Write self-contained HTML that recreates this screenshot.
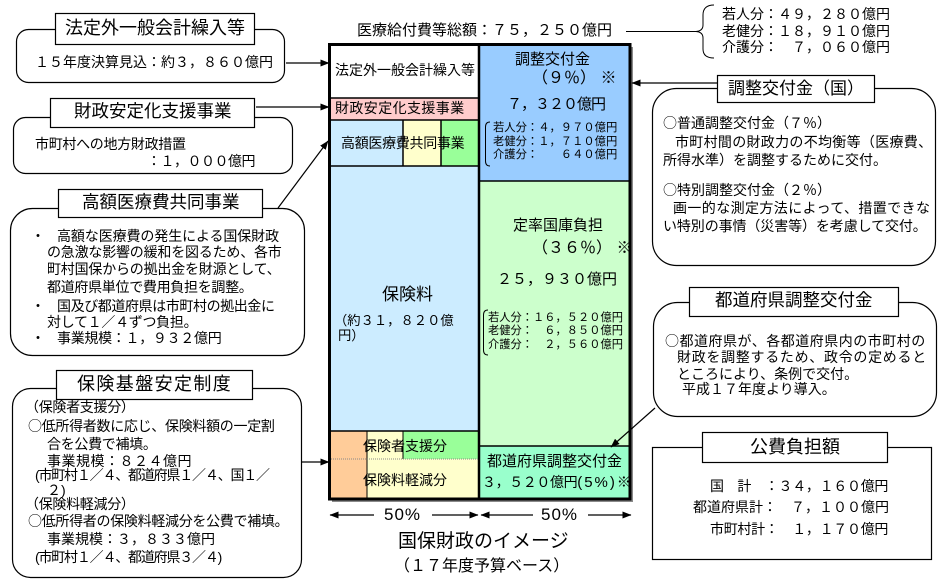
<!DOCTYPE html>
<html lang="ja">
<head>
<meta charset="utf-8">
<style>
  html,body{margin:0;padding:0;}
  body{width:942px;height:581px;position:relative;background:#fff;overflow:hidden;
       font-family:"Liberation Sans","Noto Sans CJK JP",sans-serif;color:#000;}
  svg{position:absolute;left:0;top:0;}
  .t{position:absolute;white-space:nowrap;line-height:1;color:#000;}
  .c{font-family:"Noto Sans CJK JP",sans-serif;}
</style>
</head>
<body>
<svg width="942" height="581" viewBox="0 0 942 581" xmlns="http://www.w3.org/2000/svg">
  <defs>
    <marker id="a" markerWidth="9" markerHeight="7" refX="8.5" refY="3.5" orient="auto" markerUnits="userSpaceOnUse">
      <path d="M0,0 L9,3.5 L0,7 z" fill="#000"/>
    </marker>
  </defs>

  <!-- main block shadow -->
  <rect x="332" y="47" width="301" height="455" fill="#8a8a8a"/>
  <!-- fills -->
  <rect x="329" y="44" width="150" height="54" fill="#ffffff"/>
  <rect x="329" y="98" width="150" height="22" fill="#ffcccc"/>
  <rect x="329" y="120" width="74" height="46" fill="#ccecff"/>
  <rect x="403" y="120" width="38" height="46" fill="#ffffcc"/>
  <rect x="441" y="120" width="38" height="46" fill="#99ff99"/>
  <rect x="329" y="166" width="150" height="265" fill="#ccecff"/>
  <rect x="329" y="431" width="38" height="68" fill="#ffcc99"/>
  <rect x="367" y="431" width="36" height="28" fill="#ffffcc"/>
  <rect x="403" y="431" width="76" height="28" fill="#99ff99"/>
  <rect x="367" y="459" width="112" height="40" fill="#ffffcc"/>
  <rect x="479" y="44" width="151" height="137" fill="#99ccff"/>
  <rect x="479" y="181" width="151" height="265" fill="#ccffcc"/>
  <rect x="479" y="446" width="151" height="53" fill="#99ffcc"/>

  <!-- internal lines -->
  <g stroke="#000" stroke-width="1.5" fill="none">
    <line x1="329" y1="98" x2="479" y2="98"/>
    <line x1="329" y1="120" x2="479" y2="120"/>
    <line x1="329" y1="166" x2="479" y2="166"/>
    <line x1="329" y1="431" x2="479" y2="431"/>
    <line x1="403" y1="120" x2="403" y2="166"/>
    <line x1="441" y1="120" x2="441" y2="166"/>
    <line x1="403" y1="431" x2="403" y2="459" stroke-width="1"/>
    <line x1="367" y1="431" x2="367" y2="499" stroke-width="1"/>
    <line x1="479" y1="181" x2="630" y2="181"/>
    <line x1="479" y1="446" x2="630" y2="446"/>
    <line x1="479" y1="44" x2="479" y2="499" stroke-width="2.5"/>
  </g>
  <line x1="329" y1="459" x2="479" y2="459" stroke="#888" stroke-width="1" stroke-dasharray="1,1"/>
  <!-- outer border -->
  <rect x="329.5" y="44.5" width="300.5" height="454.5" fill="none" stroke="#000" stroke-width="3"/>

  <!-- small brackets -->
  <path d="M490,122 Q485.5,122 485.5,127 L485.5,161 Q485.5,166 490,166" fill="none" stroke="#000" stroke-width="1"/>
  <path d="M488,310 Q483.5,310 483.5,315 L483.5,350 Q483.5,355 488,355" fill="none" stroke="#000" stroke-width="1"/>

  <!-- top brace + line -->
  <line x1="626" y1="31.5" x2="696" y2="31.5" stroke="#000" stroke-width="1"/>
  <path d="M714,5 Q703,5 703,15 L703,25 Q703,31 696,31.5 Q703,32 703,38 L703,49 Q703,58 714,58" fill="none" stroke="#000" stroke-width="1"/>

  <!-- left boxes -->
  <g stroke="#000" stroke-width="1.2">
    <rect x="16.5" y="29.5" width="268" height="53" rx="12" fill="#fff"/>
    <rect x="55.5" y="13.5" width="199" height="31" fill="#fff"/>
    <rect x="13.5" y="117.5" width="279" height="56" rx="12" fill="#fff"/>
    <rect x="50.5" y="98.5" width="204" height="29" fill="#fff"/>
    <rect x="10.5" y="208.5" width="294" height="147" rx="22" fill="#fff"/>
    <rect x="58.5" y="189.5" width="204" height="28" fill="#fff"/>
    <rect x="12.5" y="388.5" width="289" height="189" rx="18" fill="#fff"/>
    <rect x="56.5" y="370.5" width="196" height="29" fill="#fff"/>
    <!-- right boxes -->
    <rect x="652.5" y="88.5" width="283" height="177" rx="24" fill="#fff"/>
    <rect x="717.5" y="75.5" width="157" height="27" fill="#fff"/>
    <rect x="653.5" y="302.5" width="283" height="114" rx="24" fill="#fff"/>
    <rect x="689.5" y="287.5" width="209" height="29" fill="#fff"/>
    <rect x="652.5" y="447.5" width="279" height="112" fill="#fff"/>
    <rect x="702.5" y="432.5" width="185" height="30" fill="#fff"/>
  </g>

  <!-- connectors -->
  <g stroke="#000" stroke-width="1.2" fill="none" marker-end="url(#a)">
    <line x1="286" y1="63" x2="329" y2="63"/>
    <line x1="256" y1="107" x2="329" y2="107"/>
    <line x1="278" y1="208" x2="328" y2="141"/>
    <line x1="302" y1="462" x2="329" y2="462"/>
    <line x1="717" y1="83" x2="632" y2="83"/>
    <line x1="655" y1="408" x2="611" y2="447"/>
    <line x1="374" y1="515" x2="330" y2="515"/>
    <line x1="432" y1="515" x2="478" y2="515"/>
    <line x1="533" y1="515" x2="481" y2="515"/>
    <line x1="588" y1="515" x2="631" y2="515"/>
  </g>
</svg>

<!-- top total -->
<div class="t" style="left:357px;top:23px;font-size:15px;">医療給付費等総額：７５，２５０億円</div>
<div class="t" style="left:722px;top:7px;font-size:14px;">若人分：４９，２８０億円</div>
<div class="t" style="left:722px;top:24px;font-size:14px;">老健分：１８，９１０億円</div>
<div class="t" style="left:722px;top:40px;font-size:14px;">介護分：　７，０６０億円</div>

<!-- left box 1 -->
<div class="t" style="left:65px;top:19px;font-size:18px;">法定外一般会計繰入等</div>
<div class="t" style="left:35px;top:55px;font-size:14px;">１５年度決算見込：約３，８６０億円</div>

<!-- left box 2 -->
<div class="t" style="left:74px;top:103px;font-size:17.5px;">財政安定化支援事業</div>
<div class="t" style="left:35px;top:137px;font-size:14px;letter-spacing:-0.3px;">市町村への地方財政措置</div>
<div class="t" style="left:147px;top:154px;font-size:14px;letter-spacing:-0.5px;">：１，０００億円</div>

<!-- left box 3 -->
<div class="t" style="left:82px;top:194px;font-size:17.5px;">高額医療費共同事業</div>
<div class="t" style="left:31px;top:229px;font-size:14px;">・</div>
<div class="t" style="left:57px;top:229px;font-size:14px;letter-spacing:-0.1px;">高額な医療費の発生による国保財政</div>
<div class="t" style="left:47px;top:245px;font-size:14px;letter-spacing:-0.2px;">の急激な影響の緩和を図るため、各市</div>
<div class="t" style="left:47px;top:262px;font-size:14px;letter-spacing:-0.2px;">町村国保からの拠出金を財源として、</div>
<div class="t" style="left:47px;top:280px;font-size:14px;letter-spacing:-0.3px;">都道府県単位で費用負担を調整。</div>
<div class="t" style="left:31px;top:299px;font-size:14px;">・</div>
<div class="t" style="left:57px;top:299px;font-size:14px;letter-spacing:-0.4px;">国及び都道府県は市町村の拠出金に</div>
<div class="t" style="left:47px;top:315px;font-size:14px;letter-spacing:-0.3px;">対して１／４ずつ負担。</div>
<div class="t" style="left:31px;top:331px;font-size:14px;">・</div>
<div class="t" style="left:57px;top:331px;font-size:14px;letter-spacing:-0.3px;">事業規模：１，９３２億円</div>

<!-- left box 4 -->
<div class="t" style="left:77px;top:375px;font-size:18px;letter-spacing:1.4px;">保険基盤安定制度</div>
<div class="t" style="left:25px;top:400px;font-size:14px;letter-spacing:-0.3px;">（保険者支援分）</div>
<div class="t" style="left:28px;top:419px;font-size:14px;letter-spacing:-0.3px;"><span class="c">○</span>低所得者数に応じ、保険料額の一定割</div>
<div class="t" style="left:47px;top:437px;font-size:14px;letter-spacing:-0.3px;">合を公費で補填。</div>
<div class="t" style="left:47px;top:454px;font-size:14px;letter-spacing:0.5px;">事業規模：８２４億円</div>
<div class="t" style="left:35px;top:468px;font-size:14px;letter-spacing:-1.2px;">(市町村１／４、都道府県１／４、国１／</div>
<div class="t" style="left:47px;top:483px;font-size:14px;">２)</div>
<div class="t" style="left:25px;top:497px;font-size:14px;letter-spacing:-0.3px;">（保険料軽減分）</div>
<div class="t" style="left:28px;top:514px;font-size:14px;letter-spacing:-0.3px;"><span class="c">○</span>低所得者の保険料軽減分を公費で補填。</div>
<div class="t" style="left:47px;top:532px;font-size:14px;">事業規模：３，８３３億円</div>
<div class="t" style="left:35px;top:550px;font-size:14px;letter-spacing:-1.2px;">(市町村１／４、都道府県３／４)</div>

<!-- right box 1 -->
<div class="t" style="left:728px;top:80px;font-size:17px;">調整交付金（国）</div>
<div class="t" style="left:663px;top:116px;font-size:14px;"><span class="c">○</span>普通調整交付金（７％）</div>
<div class="t" style="left:675px;top:135px;font-size:14px;letter-spacing:0.3px;">市町村間の財政力の不均衡等（医療費、</div>
<div class="t" style="left:663px;top:153px;font-size:14px;">所得水準）を調整するために交付。</div>
<div class="t" style="left:663px;top:183px;font-size:14px;"><span class="c">○</span>特別調整交付金（２％）</div>
<div class="t" style="left:673px;top:201px;font-size:14px;letter-spacing:0.4px;">画一的な測定方法によって、措置できな</div>
<div class="t" style="left:663px;top:219px;font-size:14px;letter-spacing:-0.1px;">い特別の事情（災害等）を考慮して交付。</div>

<!-- right box 2 -->
<div class="t" style="left:715px;top:292px;font-size:17.5px;">都道府県調整交付金</div>
<div class="t" style="left:665px;top:334px;font-size:14px;letter-spacing:0.5px;"><span class="c">○</span>都道府県が、各都道府県内の市町村の</div>
<div class="t" style="left:677px;top:350px;font-size:14px;letter-spacing:0.7px;">財政を調整するため、政令の定めると</div>
<div class="t" style="left:677px;top:367px;font-size:14px;">ところにより、条例で交付。</div>
<div class="t" style="left:682px;top:382px;font-size:14px;">平成１７年度より導入。</div>

<!-- right box 3 -->
<div class="t" style="left:750px;top:438px;font-size:18px;">公費負担額</div>
<div class="t" style="left:710px;top:479px;font-size:14px;letter-spacing:-0.3px;">国　計　：３４，１６０億円</div>
<div class="t" style="left:693px;top:500px;font-size:14px;">都道府県計：　７，１００億円</div>
<div class="t" style="left:710px;top:522px;font-size:14px;letter-spacing:-0.3px;">市町村計：　１，１７０億円</div>

<!-- main block texts -->
<div class="t" style="left:335px;top:63px;font-size:14px;">法定外一般会計繰入等</div>
<div class="t" style="left:335px;top:101px;font-size:14px;letter-spacing:0.4px;">財政安定化支援事業</div>
<div class="t" style="left:341px;top:136px;font-size:14px;letter-spacing:-0.3px;">高額医療費共同事業</div>
<div class="t" style="left:382px;top:286px;font-size:17px;">保険料</div>
<div class="t" style="left:334px;top:314px;font-size:13.3px;">（約３１，８２０億</div>
<div class="t" style="left:338px;top:329px;font-size:13.3px;">円）</div>

<div class="t" style="left:515px;top:52px;font-size:15px;">調整交付金</div>
<div class="t" style="left:532px;top:71px;font-size:16px;">（９％） ※</div>
<div class="t" style="left:507px;top:97px;font-size:15px;letter-spacing:-1px;">７，３２０億円</div>
<div class="t" style="left:493px;top:123px;font-size:11.3px;">若人分：４，９７０億円</div>
<div class="t" style="left:493px;top:137px;font-size:11.3px;">老健分：１，７１０億円</div>
<div class="t" style="left:493px;top:150px;font-size:11.3px;">介護分：　　６４０億円</div>

<div class="t" style="left:513px;top:218px;font-size:15px;">定率国庫負担</div>
<div class="t" style="left:532px;top:241px;font-size:16px;">（３６％） ※</div>
<div class="t" style="left:497px;top:272px;font-size:15px;">２５，９３０億円</div>
<div class="t" style="left:488px;top:313px;font-size:11.25px;">若人分：１６，５２０億円</div>
<div class="t" style="left:488px;top:326px;font-size:11.25px;">老健分：　６，８５０億円</div>
<div class="t" style="left:488px;top:340px;font-size:11.25px;">介護分：　２，５６０億円</div>

<div class="t" style="left:487px;top:454px;font-size:15px;">都道府県調整交付金</div>
<div class="t" style="left:482px;top:475px;font-size:14px;letter-spacing:-0.4px;">３，５２０億円<span style="font-size:15px;letter-spacing:2px;">(5%)</span>※</div>

<div class="t" style="left:363px;top:439px;font-size:14px;">保険者支援分</div>
<div class="t" style="left:363px;top:473px;font-size:14px;">保険料軽減分</div>

<!-- bottom -->
<div class="t" style="left:384px;top:506px;font-size:17px;letter-spacing:1px;">50%</div>
<div class="t" style="left:541px;top:506px;font-size:17px;letter-spacing:1px;">50%</div>
<div class="t" style="left:398px;top:532px;font-size:19px;">国保財政のイメージ</div>
<div class="t" style="left:394px;top:559px;font-size:16px;">（１７年度予算ベース）</div>
</body>
</html>
